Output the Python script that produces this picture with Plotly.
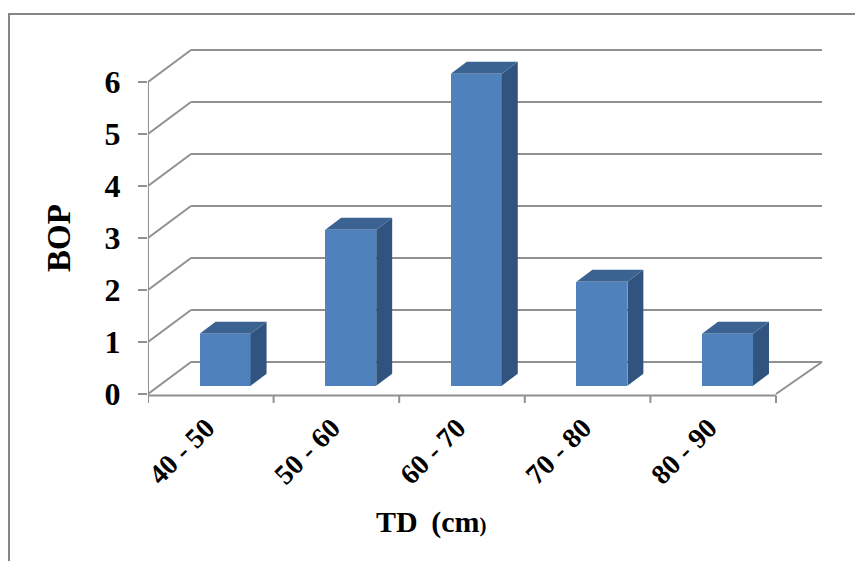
import plotly.graph_objects as go

categories = ["40 - 50", "50 - 60", "60 - 70", "70 - 80", "80 - 90"]
values = [1, 3, 6, 2, 1]
y_ticks = [0, 1, 2, 3, 4, 5, 6]

GRAY = "#909090"
FRONT = "#4f81bd"
SIDE = "#30547f"
TOP = "#3b6392"
SERIF = "Liberation Serif"

# Pseudo-3D projection, in axis units
DEPTH_X = 0.342      # wall depth along x
DEPTH_Y = 0.615      # wall depth along y
RIGHT_X = 0.366      # back wall runs a little further on the right
BAR_W = 0.406        # width of a bar
BAR_SHIFT_X = 0.114  # front of bar behind the axis plane
BAR_BASE = 0.16
BAR_DX = 0.127       # bar depth along x
BAR_DY = 0.23        # bar depth along y
LABEL_SHIFT = 0.035  # category labels sit slightly left of the slot centre

n = len(categories)
# plot area in px (Y0 is where value 0 falls, B is the plot bottom)
L, R, T, Y0, B = 148, 826, 46, 394, 405
W, H = 855, 561
PX_X, PX_Y = 125.6, 52.0
x_max = n + (R - 776) / PX_X
y_max = (Y0 - T) / PX_Y
y_min = -(B - Y0) / PX_Y


def paper_x(px):
    return (px - L) / (R - L)


def paper_y(px):
    return (B - px) / (B - T)


def seg(x0, y0, x1, y1):
    return dict(type="line", xref="x", yref="y", x0=x0, y0=y0, x1=x1, y1=y1,
                line=dict(color=GRAY, width=2), layer="below")


fig = go.Figure()

# walls: gridlines running front-to-back then along the back wall (behind the bars)
shapes = []
for v in y_ticks:
    shapes.append(seg(0, v, DEPTH_X, v + DEPTH_Y))
    shapes.append(seg(DEPTH_X, v + DEPTH_Y, n + RIGHT_X, v + DEPTH_Y))
shapes.append(seg(n, 0, n + RIGHT_X, DEPTH_Y))

# chart frame
shapes.append(dict(type="rect", xref="paper", yref="paper",
                   x0=paper_x(9), x1=paper_x(870), y0=paper_y(580), y1=paper_y(14),
                   line=dict(color="#868686", width=2), fillcolor="rgba(0,0,0,0)", layer="below"))

# front axes and category tick marks
AXIS_DROP = 1.5 / PX_Y
ax, ay = [0, 0, n, None], [y_ticks[-1], -AXIS_DROP, -AXIS_DROP, None]
for i in range(n + 1):
    ax += [i, i, None]
    ay += [-AXIS_DROP, -9 / PX_Y, None]
fig.add_trace(go.Scatter(x=ax, y=ay, mode="lines", line=dict(color=GRAY, width=2),
                         cliponaxis=False, hoverinfo="skip", showlegend=False))

# bars: front faces
centres = [i + 0.5 for i in range(n)]
fig.add_trace(go.Bar(x=[c + BAR_SHIFT_X for c in centres], y=values, base=BAR_BASE,
                     width=BAR_W, marker=dict(color=FRONT, line=dict(width=0)),
                     showlegend=False))

# bars: side and top faces
for c, v in zip(centres, values):
    r = c + BAR_SHIFT_X + BAR_W / 2
    l = r - BAR_W
    t = BAR_BASE + v
    fig.add_trace(go.Scatter(
        x=[r, r + BAR_DX, r + BAR_DX, r, r],
        y=[BAR_BASE, BAR_BASE + BAR_DY, t + BAR_DY, t, BAR_BASE],
        mode="lines", fill="toself", fillcolor=SIDE, line=dict(width=0),
        hoverinfo="skip", showlegend=False))
    fig.add_trace(go.Scatter(
        x=[l, r, r + BAR_DX, l + BAR_DX, l],
        y=[t, t, t + BAR_DY, t + BAR_DY, t],
        mode="lines", fill="toself", fillcolor=TOP, line=dict(width=0),
        hoverinfo="skip", showlegend=False))

fig.update_layout(
    width=W, height=H, autosize=False,
    margin=dict(l=L, r=W - R, t=T, b=H - B, pad=0),
    paper_bgcolor="white", plot_bgcolor="rgba(0,0,0,0)",
    font=dict(family=SERIF, color="black"),
    bargap=0,
    shapes=shapes,
    xaxis=dict(range=[0, x_max], tickmode="array",
               tickvals=[c - LABEL_SHIFT for c in centres], ticktext=categories,
               tickangle=-45, ticks="", showgrid=False, zeroline=False, showline=False,
               tickfont=dict(family=SERIF, size=28, weight="bold"), ticklabelstandoff=0),
    yaxis=dict(range=[y_min, y_max], tickmode="array", tickvals=y_ticks,
               ticks="outside", ticklen=9, tickwidth=2, tickcolor=GRAY,
               showgrid=False, zeroline=False, showline=False,
               tickfont=dict(family=SERIF, size=32, weight="bold"), ticklabelstandoff=11),
    annotations=[
        dict(text="BOP", xref="paper", yref="paper",
             x=paper_x(59), y=paper_y(238), textangle=-90, showarrow=False,
             xanchor="center", yanchor="middle", font=dict(family=SERIF, size=33, weight="bold")),
        dict(text="TD\u00a0\u2009(cm<span style='font-size:21px'>)</span>", xref="paper", yref="paper",
             x=paper_x(431), y=paper_y(522), showarrow=False,
             xanchor="center", yanchor="middle", font=dict(family=SERIF, size=30, weight="bold")),
    ],
)

fig.write_html("out.html", config={"displayModeBar": False},
               post_script="document.body.style.margin='0';")
